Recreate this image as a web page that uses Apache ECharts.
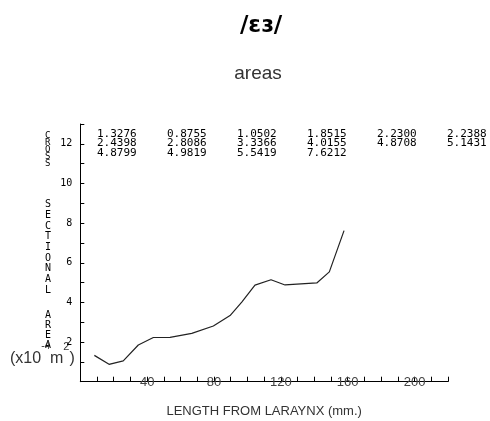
<!DOCTYPE html>
<html>
<head>
<meta charset="utf-8">
<script src="https://cdn.jsdelivr.net/npm/echarts@6/dist/echarts.min.js"></script>
<style>
html,body{margin:0;padding:0;background:#fff;}
#chart{width:490px;height:421px;}
</style>
</head>
<body>
<div id="chart"></div>
<script>
// ---- data ----
const titleText = '/ɛɜ/';
const subtitleText = 'areas';
const xAxisName = 'LENGTH FROM LARAYNX (mm.)';
const yNameWords = ['CROSS', 'SECTIONAL', 'AREA'];
const lengthsMm = [8.4, 17.2, 25.7, 34.7, 43.7, 53.7, 66.7, 79.6, 89.6, 96.6, 104.5, 114.1, 122.5, 141.5, 149, 157.8];
const areaValues = [1.3276, 0.8755, 1.0502, 1.8515, 2.2300, 2.2388, 2.4398, 2.8086, 3.3366, 4.0155, 4.8708, 5.1431, 4.8799, 4.9819, 5.5419, 7.6212];
const xTickLabels = [40, 80, 120, 160, 200];
const yTickLabels = [2, 4, 6, 8, 10, 12];
const tableColumns = 6;

const mono = '"DejaVu Sans Mono", "Liberation Mono", monospace';
const sans = '"Liberation Sans", Arial, sans-serif';

const chart = echarts.init(document.getElementById('chart'), null, {renderer: 'canvas'});

// table of values (text) built from the series values
const graphics = [];
for (let c = 0; c < tableColumns; c++) {
  const vals = [];
  for (let r = c; r < areaValues.length; r += tableColumns) vals.push(areaValues[r].toFixed(4));
  graphics.push({
    type: 'text', left: 97 + 70 * c, top: 128.5, silent: true,
    style: {text: vals.join('\n'), font: '11px ' + mono, fill: '#000', lineHeight: 9.5}
  });
}
// stacked y-axis title
const wordLayout = [{top: 131, lh: 7, fs: 9}, {top: 199.3, lh: 10.7, fs: 10}, {top: 310, lh: 10, fs: 10}];
yNameWords.forEach((w, i) => {
  graphics.push({
    type: 'text', left: 45, top: wordLayout[i].top, silent: true,
    style: {text: w.split('').join('\n'), font: wordLayout[i].fs + 'px ' + mono, fill: '#000',
            lineHeight: wordLayout[i].lh, align: 'center', textAlign: 'center'}
  });
});
// unit label
graphics.push({
  type: 'text', left: 10, top: 341.5, silent: true,
  style: {
    text: '{a|(x10}{b|-4}{a|m}{c|2}{a|)}',
    rich: {
      a: {fontSize: 16, fontFamily: sans, fill: '#333', lineHeight: 34},
      b: {fontSize: 10, fontFamily: sans, fill: '#333', lineHeight: 18, verticalAlign: 'top'},
      c: {fontSize: 11, fontFamily: sans, fill: '#333', lineHeight: 5, verticalAlign: 'top'}
    }
  }
});
// titles
graphics.push({
  type: 'text', x: 261, y: 26, silent: true,
  style: {text: titleText, font: 'bold 23px "DejaVu Sans", ' + sans, fill: '#000',
          align: 'center', textAlign: 'center', verticalAlign: 'middle', textVerticalAlign: 'middle'}
});
graphics.push({
  type: 'text', x: 258, y: 74, silent: true,
  style: {text: subtitleText, font: '19px ' + sans, fill: '#333',
          align: 'center', textAlign: 'center', verticalAlign: 'middle', textVerticalAlign: 'middle'}
});

const option = {
  animation: false,
  backgroundColor: '#fff',
  grid: {left: 80.3, right: 42, top: 124, bottom: 39.3, containLabel: false, outerBoundsMode: 'none'},
  xAxis: {
    type: 'value', min: 0, max: 220, interval: 10,
    name: xAxisName, nameLocation: 'middle', nameGap: 23,
    nameTextStyle: {fontFamily: sans, fontSize: 13, color: '#333'},
    axisLine: {show: true, lineStyle: {color: '#000', width: 1}},
    axisTick: {show: true, inside: true, length: 5, lineStyle: {color: '#000', width: 1}},
    axisLabel: {
      margin: -6, fontFamily: sans, fontSize: 13, color: '#444',
      showMinLabel: true, showMaxLabel: true,
      formatter: v => xTickLabels.indexOf(v) >= 0 ? String(v) : ''
    },
    splitLine: {show: false}
  },
  yAxis: {
    type: 'value', min: 0, max: 13, interval: 1,
    axisLine: {show: true, lineStyle: {color: '#000', width: 1}},
    axisTick: {show: true, inside: true, length: 4, lineStyle: {color: '#000', width: 1}},
    axisLabel: {
      margin: 8, fontFamily: mono, fontSize: 10, color: '#000',
      formatter: v => yTickLabels.indexOf(v) >= 0 ? String(v) : ''
    },
    splitLine: {show: false}
  },
  series: [{
    type: 'line',
    data: lengthsMm.map((x, i) => [x, areaValues[i]]),
    symbol: 'none',
    lineStyle: {color: '#222', width: 1.2},
    silent: true
  }],
  graphic: graphics
};
chart.setOption(option);
</script>
</body>
</html>
